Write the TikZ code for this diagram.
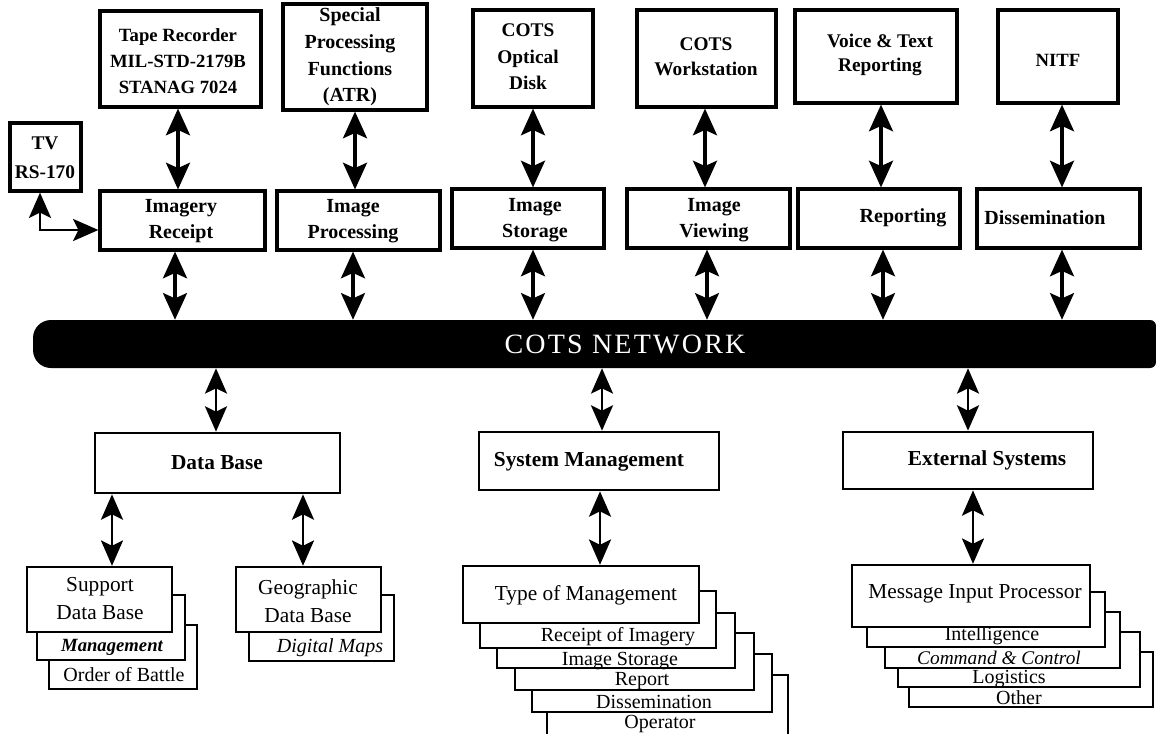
\documentclass[tikz,border=0pt]{standalone}
\usepackage{fontspec}
\setmainfont{Liberation Serif}
\usetikzlibrary{arrows.meta}
\begin{document}
\begin{tikzpicture}[x=0.75pt,y=-0.75pt,
  box/.style={draw,line width=2.4pt,fill=white,inner sep=0pt},
  bbox/.style={draw,line width=2pt,fill=white,inner sep=0pt},
  sbox/.style={draw,line width=1.8pt,fill=white,inner sep=0pt},
  toptxt/.style={font=\bfseries\fontsize{15}{20}\selectfont,align=center,inner sep=0pt},
  tapetxt/.style={font=\bfseries\fontsize{14}{19.5}\selectfont,align=center,inner sep=0pt},
  headtxt/.style={font=\bfseries\fontsize{16}{20}\selectfont,align=center,inner sep=0pt},
  regtxt/.style={font=\fontsize{16}{21}\selectfont,align=center,inner sep=0pt},
  layertxt/.style={font=\fontsize{15}{17}\selectfont,inner sep=0pt},
  tip/.tip={Stealth[length=20pt,width=18pt,inset=4pt]},
  smalltip/.tip={Stealth[length=19pt,width=16.5pt,inset=4pt]},
  dbl/.style={line width=2.4pt,tip-tip},
  sdbl/.style={line width=1.9pt,smalltip-smalltip},
]
\useasboundingbox (0,0) rectangle (1156,733);
\clip (0,0) rectangle (1156,733);

% box from corner (x1,y1) to corner (x2,y2), in pixel-like units
\newcommand\bx[6][box]{\node[#1,minimum width={(#5-#3)*0.75pt},minimum height={(#6-#4)*0.75pt}] (#2) at ({(#3+#5)/2},{(#4+#6)/2}) {};}

% ---------- top row: external devices ----------
\bx{tape}{100}{11}{261}{107}
\node[tapetxt] (tapeT) at (178,61) {Tape Recorder\\MIL-STD-2179B\\STANAG 7024};
\bx{spec}{283}{4}{427}{110}
\node[toptxt] (specT) at (350,57) {Special\\Processing\\Functions\\(ATR)};
\bx{disk}{473}{10}{593}{107}
\node[tapetxt,font=\bfseries\fontsize{14.5}{20}\selectfont] (diskT) at (528,57) {COTS\\Optical\\Disk};
\bx{work}{637}{10}{776}{107}
\node[tapetxt,font=\bfseries\fontsize{14.5}{19}\selectfont] (workT) at (706,57) {COTS\\Workstation};
\bx{voice}{795}{10}{957}{103}
\node[tapetxt,font=\bfseries\fontsize{14.5}{18}\selectfont] (voiceT) at (880,55) {Voice \& Text\\Reporting};
\bx{nitf}{998}{10}{1118}{103}
\node[tapetxt] (nitfT) at (1058,60) {NITF};
\bx{tv}{10}{123}{81}{191}
\node[tapetxt,font=\bfseries\fontsize{14.5}{22}\selectfont] (tvT) at (45,158) {TV\\RS-170};

% ---------- second row: functions ----------
\bx{rec}{100}{191}{265}{250}
\node[toptxt] (recT) at (181,221) {Imagery\\Receipt};
\bx{proc}{277}{191}{440}{250}
\node[toptxt] (procT) at (353,221) {Image\\Processing};
\bx{stor}{452}{189}{604}{248}
\node[toptxt] (storT) at (535,220) {Image\\Storage};
\bx{view}{627}{189}{790}{248}
\node[toptxt] (viewT) at (714,220) {Image\\Viewing};
\bx{rep}{798}{189}{960}{248}
\node[toptxt] (repT) at (903,218) {Reporting};
\bx{dis}{977}{189}{1140}{248}
\node[toptxt] (disT) at (1045,218) {Dissemination};

% ---------- network backbone ----------
\fill[black] (51,320) -- (1150,320) arc[start angle=-90,end angle=0,radius=6]
  -- (1156,362) arc[start angle=0,end angle=90,radius=6]
  -- (51,368) arc[start angle=90,end angle=180,radius=18]
  -- (33,338) arc[start angle=180,end angle=270,radius=18] -- cycle;
\node[inner sep=0pt,minimum width={1123*0.75pt},minimum height={48*0.75pt}] (net) at (594.5,344) {};
\node[text=white,inner sep=0pt,font=\fontsize{21}{24}\selectfont\addfontfeatures{LetterSpace=8}] (netT) at (625,344) {COTS NETWORK};

% ---------- connectors of the upper part ----------
\draw[dbl] (tape.south -| 178,0) -- (rec.north -| 178,0);
\draw[dbl] (spec.south -| 355,0) -- (proc.north -| 355,0);
\draw[dbl] (disk.south -| 533,0) -- (stor.north -| 533,0);
\draw[dbl] (work.south -| 705,0) -- (view.north -| 705,0);
\draw[dbl] (voice.south -| 881,0) -- (rep.north -| 881,0);
\draw[dbl] (nitf.south -| 1062,0) -- (dis.north -| 1062,0);
\draw[line width=2.2pt,smalltip-smalltip] (tv.south -| 40,0) |- (rec.west |- 0,230);

\draw[dbl] (rec.south -| 175,0) -- (net.north -| 175,0);
\draw[dbl] (proc.south -| 353,0) -- (net.north -| 353,0);
\draw[dbl] (stor.south -| 533,0) -- (net.north -| 533,0);
\draw[dbl] (view.south -| 707,0) -- (net.north -| 707,0);
\draw[dbl] (rep.south -| 883,0) -- (net.north -| 883,0);
\draw[dbl] (dis.south -| 1062,0) -- (net.north -| 1062,0);

% ---------- lower part: data base ----------
\bx[bbox]{db}{95}{433}{340}{493}
\node[headtxt] (dbT) at (217,463) {Data Base};

\bx[sbox]{sdb3}{49}{625}{197}{689}
\node[layertxt] (sdb3T) at (124,675) {Order of Battle};
\bx[sbox]{sdb2}{37}{595}{185}{660}
\node[layertxt,font=\bfseries\itshape\fontsize{14}{17}\selectfont] (sdb2T) at (112,647) {Management};
\bx[sbox]{sdb1}{27}{567}{172}{632}
\node[regtxt] (sdb1T) at (100,599) {Support\\Data Base};

\bx[sbox]{geo2}{249}{595}{394}{661}
\node[layertxt,font=\itshape\fontsize{15}{17}\selectfont] (geo2T) at (330,648) {Digital Maps};
\bx[sbox]{geo1}{236}{567}{381}{632}
\node[regtxt] (geo1T) at (308,601) {Geographic\\Data Base};

% ---------- lower part: system management ----------
\bx[bbox]{sm}{479}{432}{719}{490}
\node[headtxt] (smT) at (589,462) {System Management};

\bx[sbox]{tm6}{547}{675}{788}{745}
\node[layertxt] (tm6T) at (660,724) {Operator};
\bx[sbox]{tm5}{532}{654}{772}{712}
\node[layertxt] (tm5T) at (654,702) {Dissemination};
\bx[sbox]{tm4}{515}{633}{754}{690}
\node[layertxt] (tm4T) at (642,681) {Report};
\bx[sbox]{tm3}{497}{613}{735}{668}
\node[layertxt] (tm3T) at (620,661) {Image Storage};
\bx[sbox]{tm2}{480}{591}{716}{648}
\node[layertxt] (tm2T) at (618,637) {Receipt of Imagery};
\bx[sbox]{tm1}{463}{566}{699}{623}
\node[regtxt] (tm1T) at (586,595) {Type of Management};

% ---------- lower part: external systems ----------
\bx[bbox]{ext}{843}{432}{1093}{489}
\node[headtxt] (extT) at (987,460) {External Systems};

\bx[sbox]{mp5}{909}{652}{1153}{707}
\node[layertxt] (mp5T) at (1019,698) {Other};
\bx[sbox]{mp4}{898}{632}{1140}{687}
\node[layertxt] (mp4T) at (1009,679) {Logistics};
\bx[sbox]{mp3}{885}{612}{1120}{668}
\node[layertxt,font=\itshape\fontsize{14.5}{17}\selectfont] (mp3T) at (999,658) {Command \& Control};
\bx[sbox]{mp2}{867}{592}{1105}{647}
\node[layertxt] (mp2T) at (992,636) {Intelligence};
\bx[sbox]{mp1}{852}{565}{1090}{627}
\node[regtxt] (mp1T) at (975,594) {Message Input Processor};

% ---------- connectors of the lower part ----------
\draw[sdbl] (net.south -| 216,0) -- (db.north -| 216,0);
\draw[sdbl] (db.south -| 112,0) -- (sdb1.north -| 112,0);
\draw[sdbl] (db.south -| 303,0) -- (geo1.north -| 303,0);
\draw[sdbl] (net.south -| 602,0) -- (sm.north -| 602,0);
\draw[sdbl] (sm.south -| 600,0) -- (tm1.north -| 600,0);
\draw[sdbl] (net.south -| 968,0) -- (ext.north -| 968,0);
\draw[sdbl] (ext.south -| 973,0) -- (mp1.north -| 973,0);
\end{tikzpicture}
\end{document}
